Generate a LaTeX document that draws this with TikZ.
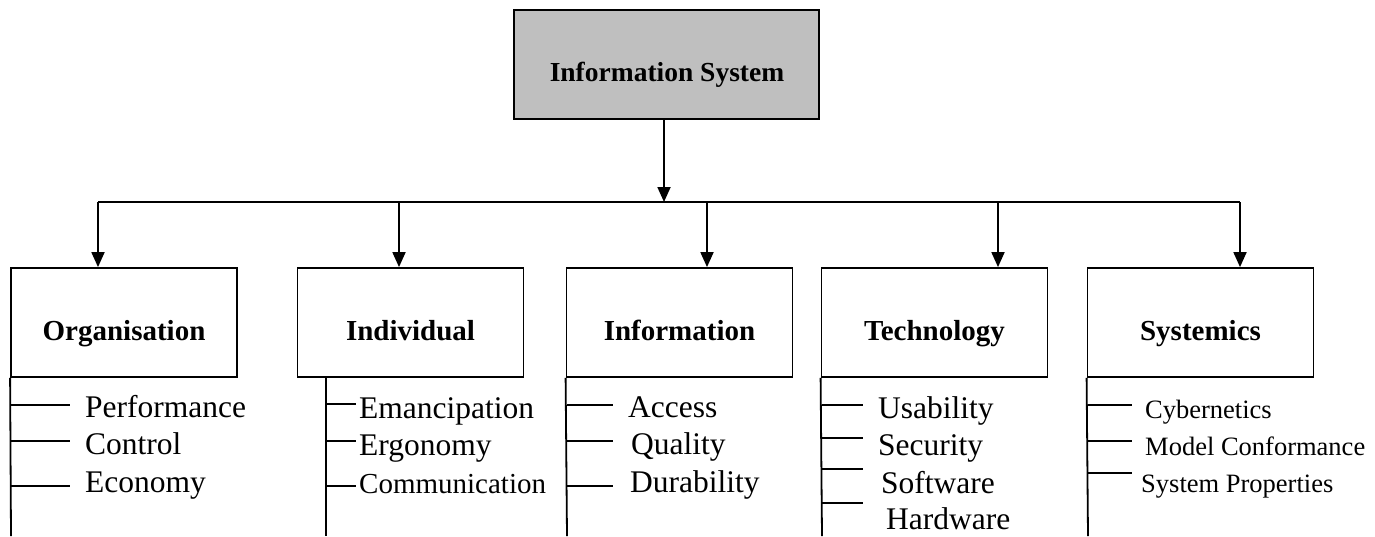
\documentclass[tikz,border=0pt]{standalone}
\usepackage{fontspec}
\setmainfont{Liberation Serif}
\usetikzlibrary{arrows.meta}
\begin{document}
\begin{tikzpicture}[x=1pt,y=-1pt,
  ln/.style={line width=1.8pt},
  box/.style={draw,line width=1.8pt,minimum width=226pt,minimum height=109pt,inner sep=0pt},
  topbox/.style={draw,line width=1.8pt,fill=black!25,minimum width=305pt,minimum height=109pt,inner sep=0pt},
  lbl/.style={anchor=base,inner sep=0pt,font=\fontsize{29}{31}\selectfont\bfseries},
  item/.style={anchor=base west,inner sep=0pt,font=\fontsize{31.5}{33}\selectfont},
  smallitem/.style={anchor=base west,inner sep=0pt,font=\fontsize{26.5}{28}\selectfont},
  arr/.style={line width=1.8pt,-{Triangle[length=15pt,width=13pt]}}
]
\useasboundingbox (0,0) rectangle (1375,536);

% top box
\node[topbox] (is) at (666.5,64.5) {};
\node[lbl,font=\fontsize{27.5}{29}\selectfont\bfseries] (isL) at (667,81) {Information System};

% category boxes
\node[box] (org) at (124,322.5) {};
\node[box] (ind) at (410.5,322.5) {};
\node[box] (inf) at (679.5,322.5) {};
\node[box] (tec) at (934.5,322.5) {};
\node[box] (sys) at (1200.5,322.5) {};

\node[lbl] (orgL) at (124,340) {Organisation};
\node[lbl] (indL) at (410.5,340) {Individual};
\node[lbl] (infL) at (679.5,340) {Information};
\node[lbl] (tecL) at (934.5,340) {Technology};
\node[lbl] (sysL) at (1200.5,340) {Systemics};

% bus
\coordinate (hub) at (664,202);
\coordinate (b1) at (98,202);
\coordinate (b2) at (399,202);
\coordinate (b3) at (707,202);
\coordinate (b4) at (998,202);
\coordinate (b5) at (1240,202);
\draw[arr] (is.south -| hub) -- (hub);
\draw[ln] (b1) -- (b5);
\draw[arr] (b1) -- (b1 |- org.north);
\draw[arr] (b2) -- (b2 |- ind.north);
\draw[arr] (b3) -- (b3 |- inf.north);
\draw[arr] (b4) -- (b4 |- tec.north);
\draw[arr] (b5) -- (b5 |- sys.north);

% column 1
\coordinate (v1) at (11,536);
\draw[ln] (org.south west) -- (v1);
\node[item] (p1) at (85,417) {Performance};
\node[item] (p2) at (85,454) {Control};
\node[item] (p3) at (85,492) {Economy};
\draw[ln] (11,405) -- (70,405);
\draw[ln] (11,441) -- (70,441);
\draw[ln] (11,486) -- (70,486);

% column 2
\coordinate (v2) at (326,536);
\draw[ln] (v2 |- ind.south) -- (v2);
\node[item] (q1) at (359,418) {Emancipation};
\node[item] (q2) at (359,455) {Ergonomy};
\node[item,font=\fontsize{29}{31}\selectfont] (q3) at (359,493) {Communication};
\draw[ln] (326,404) -- (356,404);
\draw[ln] (326,441) -- (356,441);
\draw[ln] (326,486) -- (356,486);

% column 3
\coordinate (v3) at (567,536);
\draw[ln] (inf.south west) -- (v3);
\node[item] (r1) at (628,417) {Access};
\node[item] (r2) at (631,454) {Quality};
\node[item] (r3) at (630,492) {Durability};
\draw[ln] (567,405) -- (613,405);
\draw[ln] (567,441) -- (613,441);
\draw[ln] (567,486) -- (613,486);

% column 4
\coordinate (v4) at (822,536);
\draw[ln] (tec.south west) -- (v4);
\node[item] (s1) at (878,418) {Usability};
\node[item] (s2) at (878,455) {Security};
\node[item] (s3) at (881,493) {Software};
\node[item] (s4) at (886,529) {Hardware};
\draw[ln] (822,405) -- (863,405);
\draw[ln] (822,438) -- (863,438);
\draw[ln] (822,469) -- (863,469);
\draw[ln] (822,503) -- (863,503);

% column 5
\coordinate (v5) at (1088,536);
\draw[ln] (sys.south west) -- (v5);
\node[smallitem] (t1) at (1145,418) {Cybernetics};
\node[smallitem] (t2) at (1145,455) {Model Conformance};
\node[smallitem] (t3) at (1141,492) {System Properties};
\draw[ln] (1088,405) -- (1132,405);
\draw[ln] (1088,441) -- (1132,441);
\draw[ln] (1088,473) -- (1132,473);
\end{tikzpicture}
\end{document}
